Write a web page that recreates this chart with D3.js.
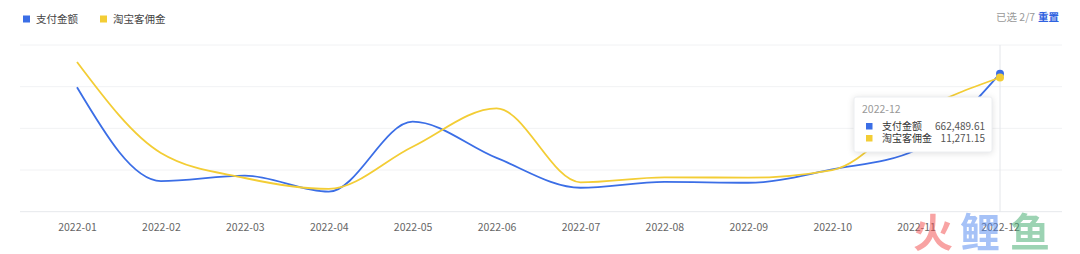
<!DOCTYPE html>
<html><head><meta charset="utf-8">
<script src="https://cdn.jsdelivr.net/npm/d3@7/dist/d3.min.js"></script>
<style>
html,body{margin:0;padding:0;background:#fff;}
svg{display:block;font-family:"Noto Sans CJK SC","Noto Sans",sans-serif;}
</style></head>
<body>
<svg id="c" width="1080" height="254"></svg>
<script>
const months = ["2022-01","2022-02","2022-03","2022-04","2022-05","2022-06","2022-07","2022-08","2022-09","2022-10","2022-11","2022-12"];
const payAmount = [597000,147000,173000,96000,432000,258000,115000,143000,139000,203000,296000,662489.61];
const commission = [12570,4930,2830,1910,5460,8680,2470,2890,2860,3500,8290,11271.15];
const seriesNames = ["支付金额","淘宝客佣金"];
const seriesColors = ["#3b6ee6","#f3cd35"];
const leftTicks = [0,200000,400000,600000,800000];
const rightMax = 14000;

const svg = d3.select("#c");
const x = d3.scalePoint().domain(months).range([77,1000]);
const yL = d3.scaleLinear().domain([0,800000]).range([211.7,45]);
const yR = d3.scaleLinear().domain([0,rightMax]).range([211.7,45]);

// gridlines
svg.append("g").selectAll("line").data(leftTicks).join("line")
  .attr("x1",20).attr("x2",1062)
  .attr("y1",d=>yL(d)).attr("y2",d=>yL(d))
  .attr("stroke",d=>d===0?"#e6e8ec":"#f1f2f4").attr("stroke-width",1);

// x axis labels
const xa = svg.append("g").attr("transform","translate(0,211.7)")
  .call(d3.axisBottom(x).tickSize(0).tickPadding(12));
xa.select(".domain").remove();
xa.selectAll("text").attr("fill","#666").attr("font-size",10.5)
  .attr("font-family","\"Noto Sans CJK SC\",sans-serif");

// axis pointer
svg.append("line").attr("x1",x("2022-12")).attr("x2",x("2022-12"))
  .attr("y1",45).attr("y2",211.7).attr("stroke","#e4e6ea").attr("stroke-width",1);

// watermark
const wm = svg.append("g").attr("font-weight","bold").attr("font-size",40).attr("opacity",0.5);
[["火","#f24a4a",913],["鲤","#4f86f0",960],["鱼","#3ca86a",1010]].forEach(([t,c,px])=>{
  wm.append("text").attr("x",px).attr("y",247).attr("fill",c).text(t);
});

const line = d3.line().curve(d3.curveMonotoneX);
const data = [
  payAmount.map((v,i)=>[x(months[i]),yL(v)]),
  commission.map((v,i)=>[x(months[i]),yR(v)])
];
data.forEach((d,i)=>{
  svg.append("path").attr("d",line(d)).attr("fill","none")
    .attr("stroke",seriesColors[i]).attr("stroke-width",1.8);
});
// highlight dots
data.forEach((d,i)=>{
  const p = d[d.length-1];
  svg.append("circle").attr("cx",p[0]).attr("cy",p[1]).attr("r",4)
    .attr("fill",seriesColors[i]);
});

// legend
const lg = svg.append("g").attr("font-size",10.5);
[[23,36],[100,113]].forEach(([sx,tx],i)=>{
  lg.append("rect").attr("x",sx).attr("y",15.5).attr("width",7).attr("height",7).attr("fill",seriesColors[i]);
  lg.append("text").attr("x",tx).attr("y",23).attr("fill","#444").text(seriesNames[i]);
});

// top right
svg.append("text").attr("x",996).attr("y",21).attr("font-size",10.5).attr("fill","#999").text("已选 2/7");
svg.append("text").attr("x",1038).attr("y",21).attr("font-size",10.5).attr("font-weight","bold").attr("fill","#2f62e0").text("重置");

// tooltip
const tt = svg.append("g");
tt.append("rect").attr("x",854).attr("y",97).attr("width",138).attr("height",55).attr("rx",2)
  .attr("fill","#fff").attr("stroke","#eceef1").style("filter","drop-shadow(0 1px 3px rgba(0,0,0,0.12))");
tt.append("text").attr("x",862).attr("y",113).attr("font-size",10.5).attr("fill","#999").text(months[11]);
const vals = [payAmount[11],commission[11]];
const fmt = d3.format(",.2f");
vals.forEach((v,i)=>{
  const yy = 130 + i*12;
  tt.append("rect").attr("x",866).attr("y",yy-7).attr("width",6.5).attr("height",6.5).attr("fill",seriesColors[i]);
  tt.append("text").attr("x",882).attr("y",yy).attr("font-size",10).attr("fill","#333").text(seriesNames[i]);
  tt.append("text").attr("x",985).attr("y",yy).attr("font-size",10).attr("fill","#555").attr("text-anchor","end").text(fmt(v));
});
</script>
</body></html>
